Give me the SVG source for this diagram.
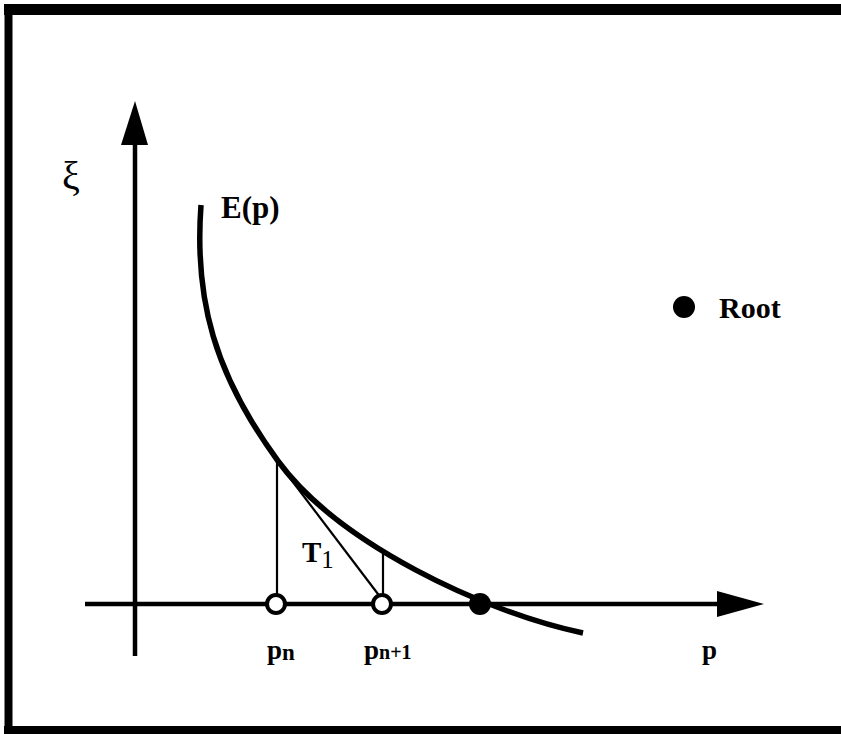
<svg xmlns="http://www.w3.org/2000/svg" width="841" height="734" viewBox="0 0 841 734">
<style>
.t{font-family:"Liberation Serif","Times New Roman",serif;fill:#000}
.b{font-weight:bold}
.thin{stroke:#000;stroke-width:2.2;fill:none}
.axis{stroke:#000;stroke-width:4.5;fill:none}
.fr{stroke:#000;fill:none}
</style>
<rect x="0" y="0" width="841" height="734" fill="#fff"/>
<g id="frame">
  <line class="fr" x1="4" y1="9.5" x2="841" y2="9.5" stroke-width="11"/>
  <line class="fr" x1="8.5" y1="4" x2="8.5" y2="734" stroke-width="8"/>
  <line class="fr" x1="4" y1="730" x2="841" y2="730" stroke-width="8"/>
</g>
<g id="connectors">
  <line class="axis" x1="135" y1="140" x2="135" y2="656"/>
  <polygon points="135,101 121,145 148,145" fill="#000"/>
  <line class="axis" x1="85" y1="604" x2="720" y2="604"/>
  <polygon points="764,604 717,591 717,617" fill="#000"/>
  <line class="thin" x1="277" y1="462" x2="277" y2="596"/>
  <line class="thin" x1="383" y1="551" x2="383" y2="596"/>
  <line class="thin" x1="277" y1="461" x2="381" y2="598" stroke-width="2.6"/>
</g>
<g id="curve">
  <path d="M201,205 C194,300 215,375 278,461 C338,543 483,612 583,633" fill="none" stroke="#000" stroke-width="5.5"/>
</g>
<g id="pn"><circle cx="276" cy="604" r="9" fill="#fff" stroke="#000" stroke-width="4"/></g>
<g id="pn1"><circle cx="382" cy="604" r="9" fill="#fff" stroke="#000" stroke-width="4"/></g>
<g id="root"><circle cx="480" cy="604" r="11" fill="#000"/></g>
<g id="legend">
  <circle cx="684" cy="307" r="11" fill="#000"/>
  <text class="t b" x="719" y="318" font-size="30">Root</text>
</g>
<g id="labels">
  <text class="t" x="62" y="189" font-size="40">ξ</text>
  <text class="t b" x="221" y="218" font-size="31">E(p)</text>
  <text class="t b" x="302" y="562" font-size="29">T<tspan class="t" font-weight="normal" font-size="25" dy="6">1</tspan></text>
  <text class="t b" x="267" y="659" font-size="27">p<tspan font-size="23" dy="1">n</tspan></text>
  <text class="t b" x="364" y="659" font-size="27">p<tspan font-size="20" dy="0">n+1</tspan></text>
  <text class="t b" x="702" y="659" font-size="27">p</text>
</g>
</svg>
